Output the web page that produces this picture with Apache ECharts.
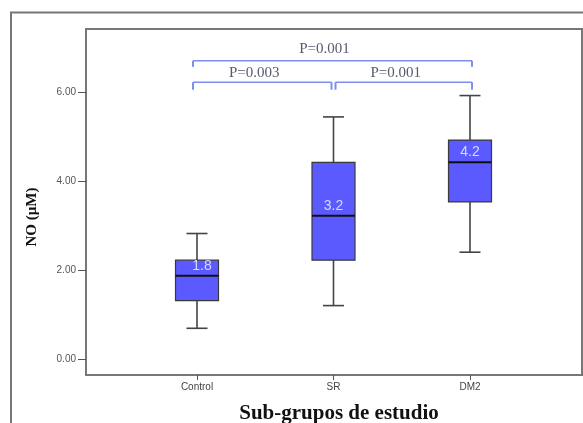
<!DOCTYPE html>
<html>
<head>
<meta charset="utf-8">
<script src="https://cdn.jsdelivr.net/npm/echarts@6/dist/echarts.min.js"></script>
<style>
  html, body { margin: 0; padding: 0; background: #fff; }
  #chart { width: 583px; height: 423px; }
</style>
</head>
<body>
<div id="chart"></div>
<script>
// datos (NO en µM)
const categories = ['Control', 'SR', 'DM2']
const whiskerLow = [0.69, 1.20, 2.40]
const q1 = [1.31, 2.22, 3.53]
const median = [1.87, 3.22, 4.42]
const q3 = [2.22, 4.42, 4.92]
const whiskerHigh = [2.82, 5.44, 5.92]
const boxLabels = ['1.8', '3.2', '4.2']
const yTicks = [0, 2, 4, 6]
const xTicks = [0, 1, 2]
// comparaciones: [grupo a, grupo b, nivel]
const pairs = [[0, 2, 0], [0, 1, 1], [1, 2, 1]]
const pLabels = ['P=0.001', 'P=0.003', 'P=0.001']

const BOX_W = 43
const CAP_W = 21
const LEVEL_Y = [6.70, 6.22]
const LEVEL_TICK = [6, 7.5]

const chart = echarts.init(document.getElementById('chart'))

const boxData = categories.map((c, i) => [i, whiskerLow[i], q1[i], median[i], q3[i], whiskerHigh[i]])

function renderBox(params, api) {
  const x = api.value(0)
  const lo = api.coord([x, api.value(1)])
  const b1 = api.coord([x, api.value(2)])
  const md = api.coord([x, api.value(3)])
  const b3 = api.coord([x, api.value(4)])
  const hi = api.coord([x, api.value(5)])
  const cx = lo[0]
  const wStyle = { stroke: '#444', lineWidth: 1.6 }
  return {
    type: 'group',
    children: [
      { type: 'line', shape: { x1: cx, y1: lo[1], x2: cx, y2: b1[1] }, style: wStyle },
      { type: 'line', shape: { x1: cx, y1: hi[1], x2: cx, y2: b3[1] }, style: wStyle },
      { type: 'line', shape: { x1: cx - CAP_W / 2, y1: lo[1], x2: cx + CAP_W / 2, y2: lo[1] }, style: wStyle },
      { type: 'line', shape: { x1: cx - CAP_W / 2, y1: hi[1], x2: cx + CAP_W / 2, y2: hi[1] }, style: wStyle },
      {
        type: 'rect',
        shape: { x: cx - BOX_W / 2, y: b3[1], width: BOX_W, height: b1[1] - b3[1] },
        style: { fill: '#5a5aff', stroke: '#3a3a3a', lineWidth: 1.2 }
      },
      { type: 'line', shape: { x1: cx - BOX_W / 2, y1: md[1], x2: cx + BOX_W / 2, y2: md[1] }, style: { stroke: '#111', lineWidth: 2 } },
      {
        type: 'text',
        x: cx + (params.dataIndex === 0 ? 5 : 0),
        y: md[1] - 10,
        style: {
          text: boxLabels[params.dataIndex],
          fill: '#d8d8ff',
          font: '14px "Liberation Sans", Arial, sans-serif',
          align: 'center',
          verticalAlign: 'middle'
        }
      }
    ]
  }
}

function renderBracket(params, api) {
  const a = api.value(0)
  const b = api.value(1)
  const lvl = api.value(2)
  const pa = api.coord([a, LEVEL_Y[lvl]])
  const pb = api.coord([b, LEVEL_Y[lvl]])
  const x1 = pa[0] + (a === 0 ? -4 : 2)
  const x2 = pb[0] + (b === 2 ? 2 : -2)
  const y = pa[1]
  const t = LEVEL_TICK[lvl]
  const st = { stroke: '#7b8ff2', lineWidth: 1.5 }
  return {
    type: 'group',
    children: [
      { type: 'line', shape: { x1: x1, y1: y, x2: x2, y2: y }, style: st },
      { type: 'line', shape: { x1: x1, y1: y, x2: x1, y2: y + t }, style: { stroke: '#7b8ff2', lineWidth: 2 } },
      { type: 'line', shape: { x1: x2, y1: y, x2: x2, y2: y + t }, style: { stroke: '#7b8ff2', lineWidth: 2 } },
      {
        type: 'text',
        x: (x1 + x2) / 2 - 8,
        y: y - (lvl === 0 ? 11.5 : 9),
        style: {
          text: pLabels[params.dataIndex],
          fill: '#565c6e',
          font: '15px "Liberation Serif", "Times New Roman", serif',
          align: 'center',
          verticalAlign: 'middle'
        }
      }
    ]
  }
}

const option = {
  animation: false,
  backgroundColor: '#fff',
  grid: {
    left: 86, top: 29, width: 496, height: 346,
    show: true, borderColor: '#777', borderWidth: 2
  },
  xAxis: {
    type: 'value',
    min: -0.8132,
    max: 2.8205,
    splitLine: { show: false },
    axisLine: { show: true, onZero: false, lineStyle: { color: '#777', width: 2 } },
    axisTick: { show: true, customValues: xTicks, length: 5, lineStyle: { color: '#555' } },
    axisLabel: {
      customValues: xTicks,
      formatter: (v) => categories[Math.round(v)],
      fontSize: 10,
      color: '#444',
      fontFamily: '"Liberation Sans", Arial, sans-serif',
      margin: 7
    }
  },
  yAxis: {
    type: 'value',
    min: -0.3596,
    max: 7.4157,
    splitLine: { show: false },
    axisLine: { show: true, onZero: false, lineStyle: { color: '#777', width: 2 } },
    axisTick: { show: true, customValues: yTicks, length: 8, lineStyle: { color: '#555' } },
    axisLabel: {
      customValues: yTicks,
      formatter: (v) => v.toFixed(2),
      fontSize: 10,
      color: '#555',
      fontFamily: '"Liberation Sans", Arial, sans-serif',
      margin: 10
    }
  },
  graphic: [
    {
      type: 'rect',
      shape: { x: 11, y: 12.5, width: 700, height: 500 },
      style: { fill: 'none', stroke: '#777', lineWidth: 2 },
      silent: true
    },
    {
      type: 'text',
      x: 32, y: 217,
      rotation: Math.PI / 2,
      style: {
        text: 'NO (µM)',
        fill: '#111',
        font: 'bold 15px "Liberation Serif", "Times New Roman", serif',
        align: 'center',
        verticalAlign: 'middle'
      }
    },
    {
      type: 'text',
      x: 339, y: 414,
      style: {
        text: 'Sub-grupos de estudio',
        fill: '#111',
        font: 'bold 21px "Liberation Serif", "Times New Roman", serif',
        align: 'center',
        verticalAlign: 'middle'
      }
    }
  ],
  series: [
    {
      type: 'custom',
      name: 'NO',
      data: boxData,
      encode: { x: 0, y: [1, 2, 3, 4, 5] },
      renderItem: renderBox,
      clip: false
    },
    {
      type: 'custom',
      name: 'comparaciones',
      data: pairs,
      encode: { x: [0, 1] },
      renderItem: renderBracket,
      clip: false
    }
  ]
}

chart.setOption(option)
</script>
</body>
</html>
